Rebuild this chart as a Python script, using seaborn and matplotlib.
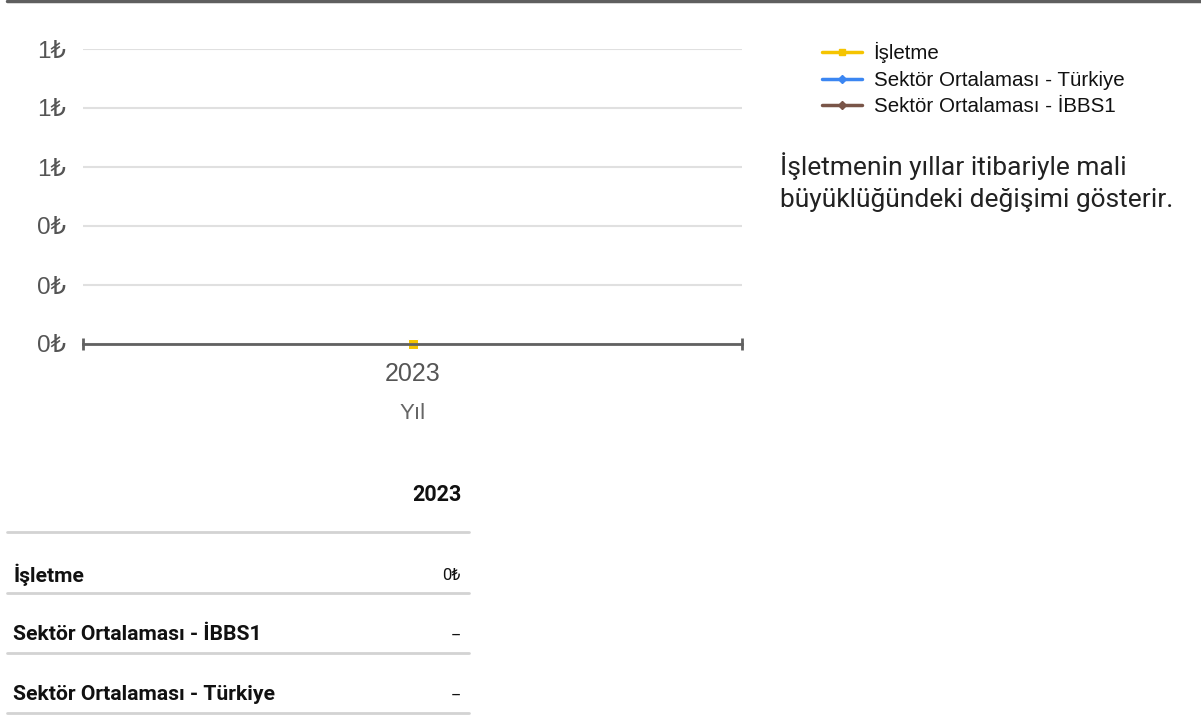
import numpy as np
import pandas as pd
import seaborn as sns
import matplotlib.pyplot as plt
from matplotlib.lines import Line2D
from matplotlib.ticker import FuncFormatter, FixedLocator

# Data
years = ["2023"]
isletme = [0.0]
sektor_turkiye = [np.nan]
sektor_ibbs1 = [np.nan]

series_names = ["İşletme", "Sektör Ortalaması - Türkiye", "Sektör Ortalaması - İBBS1"]
series_colors = ["#f5c400", "#3b86f2", "#795548"]
series_markers = ["s", "D", "D"]

table_header = "2023"
table_rows = ["İşletme", "Sektör Ortalaması - İBBS1", "Sektör Ortalaması - Türkiye"]
table_values = ["0₺", "--", "--"]

description = ["İşletmenin yıllar itibariyle mali", "büyüklüğündeki değişimi gösterir."]

sns.set_theme(style="white")
plt.rcParams["font.family"] = ["Liberation Sans", "DejaVu Sans"]

df = pd.DataFrame({
    "Yıl": years * 3,
    "Değer": isletme + sektor_turkiye + sektor_ibbs1,
    "Seri": [series_names[0]] * len(years) + [series_names[1]] * len(years) + [series_names[2]] * len(years),
})
df["x"] = df.groupby("Seri").cumcount()

W, H = 1201, 715
fig = plt.figure(figsize=(W / 100, H / 100), dpi=100)
ax = fig.add_axes([83 / W, 1 - 344 / H, (742 - 83) / W, (344 - 49) / H])

sns.lineplot(data=df.dropna(), x="x", y="Değer", hue="Seri", style="Seri",
             palette=dict(zip(series_names, series_colors)),
             markers=dict(zip(series_names, series_markers)), dashes=False,
             markersize=7.5, linewidth=2.5, legend=False, ax=ax, zorder=3, clip_on=False)

ax.set_xlim(-0.5, len(years) - 0.5)
ax.set_ylim(0, 1)
ax.yaxis.set_major_locator(FixedLocator([0, 0.2, 0.4, 0.6, 0.8, 1.0]))
ax.yaxis.set_major_formatter(FuncFormatter(lambda v, p: f"{v:.0f}₺"))
ax.grid(axis="y", color="#e0e0e0", linewidth=1.5)
ax.set_axisbelow(True)
for s in ["top", "right", "left"]:
    ax.spines[s].set_visible(False)
ax.spines["bottom"].set_color("#616161")
ax.spines["bottom"].set_linewidth(2)
ax.spines["bottom"].set_zorder(4)
ax.xaxis.set_zorder(5)

ax.set_xticks(range(len(years)))
ax.set_xticklabels(years)
ax.set_xticks([-0.5, 0, len(years) - 0.5], minor=True)
ax.tick_params(axis="x", which="major", bottom=False, length=0, labelsize=18,
               labelcolor="#555555", pad=13)
ax.tick_params(axis="x", which="minor", bottom=True, direction="inout", length=8, width=2,
               color="#616161")
ax.tick_params(axis="y", left=False, length=0, labelsize=17.5, labelcolor="#555555", pad=12)
ax.set_xlabel("Yıl", fontsize=16, color="#666666", labelpad=12)
ax.set_ylabel("")

# legend
handles = [Line2D([], [], color=c, marker=m, markersize=4, linewidth=2.5)
           for c, m in zip(series_colors, series_markers)]
fig.legend(handles, series_names, loc="upper left", bbox_to_anchor=(814 / W, 1 - 34 / H),
           frameon=False, fontsize=14.8, handlelength=1.95, handletextpad=0.55,
           labelspacing=0.37, borderaxespad=0, labelcolor="#111111")

for i, line in enumerate(description):
    fig.text(780 / W, 1 - (175 + 32 * i) / H, line, fontsize=19, family=["Roboto", "DejaVu Sans"],
             color="#222222", va="baseline")

# top bar
fig.add_artist(Line2D([7 / W, 1], [1 - 1.2 / H, 1 - 1.2 / H], color="#5f5f5f", linewidth=2.5))

# table
tfont = ["Roboto", "DejaVu Sans"]
fig.text(462 / W, 1 - 495 / H, table_header, fontsize=15.5, fontweight="bold", family=tfont,
         ha="right", va="center", color="#111111")
line_ys = [532, 593, 653, 713]
for y in line_ys:
    fig.add_artist(Line2D([7 / W, 469 / W], [1 - y / H, 1 - y / H], color="#d3d3d3", linewidth=2))
for i, (lab, val) in enumerate(zip(table_rows, table_values)):
    y = 1 - (575 + 60 * i) / H
    fig.text(13 / W, y, lab, fontsize=15.2, fontweight="bold", family=tfont,
             ha="left", va="center", color="#111111")
    fig.text(461 / W, y, val, fontsize=12, family=tfont, ha="right", va="center", color="#111111")

fig.savefig("out.png", dpi=100)
